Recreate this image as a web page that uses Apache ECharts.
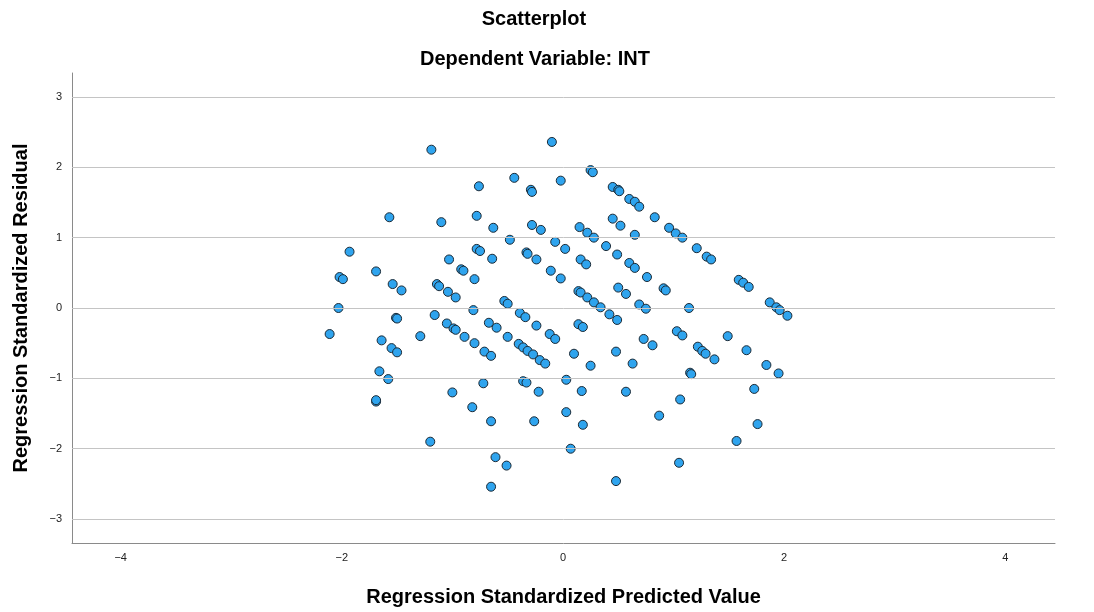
<!DOCTYPE html>
<html>
<head>
<meta charset="utf-8">
<script src="https://cdn.jsdelivr.net/npm/echarts@6/dist/echarts.min.js"></script>
<style>html,body{margin:0;padding:0;background:#fff;}#c{width:1094px;height:612px;}</style>
</head>
<body>
<div id="c"></div>
<script>
// Regression standardized predicted values (x) and residuals (y)
const predicted = [
-1.19,-1.57,-1.10,-1.93,-1.03,-0.76,-0.78,-0.78,-0.75,-0.10,-0.44,-0.29,-0.28,-0.02,0.25,0.27,0.45,0.50,0.51,0.60,
0.65,0.69,-0.63,-0.28,-0.20,0.15,0.22,0.28,0.45,0.52,0.65,-0.48,-0.07,0.02,0.39,0.49,-0.33,-0.32,-0.64,-0.24,
0.16,0.21,0.83,0.96,1.02,1.08,1.21,1.30,1.34,-0.92,-0.90,-0.80,-2.02,-1.99,-1.69,-1.54,-1.46,-1.14,-1.12,-1.04,
-0.97,-2.03,-0.81,-1.51,-1.50,-1.16,-1.05,-0.99,-0.97,-0.89,-0.80,-2.11,-1.29,-1.64,-1.55,-1.50,-1.66,-1.58,0.60,0.65,
-0.11,-0.02,0.14,0.16,0.22,0.28,0.34,0.50,0.57,-0.53,-0.50,-0.39,-0.34,0.42,0.49,-0.67,-0.60,-0.24,0.14,0.18,
-0.50,-0.12,-0.07,-0.40,-0.36,-0.32,-0.27,-0.21,-0.16,-0.71,-0.65,0.10,0.48,0.25,0.63,-0.72,-0.36,-0.33,0.03,0.76,
1.59,1.63,1.68,0.91,0.93,0.69,0.75,1.14,1.87,1.93,1.96,2.03,1.03,1.08,1.49,0.73,0.81,1.22,1.26,1.29,
1.37,1.66,1.84,1.95,1.15,1.16,-1.69,-1.69,-1.00,-0.82,-1.20,-0.22,0.17,0.57,-0.65,-0.26,0.03,0.18,0.07,-0.61,
-0.51,-0.65,0.48,1.73,1.06,0.87,1.76,1.57,1.05
];
const residual = [
2.25,1.29,1.22,0.80,0.69,1.73,1.31,0.84,0.81,2.36,1.85,1.68,1.65,1.81,1.96,1.93,1.72,1.68,1.66,1.55,
1.51,1.44,1.14,1.18,1.11,1.15,1.07,1.00,1.27,1.17,1.04,0.97,0.94,0.84,0.88,0.76,0.79,0.77,0.70,0.69,
0.69,0.62,1.29,1.14,1.06,1.00,0.85,0.73,0.69,0.55,0.53,0.41,0.44,0.41,0.52,0.34,0.25,0.34,0.31,0.23,
0.15,0.00,-0.03,-0.14,-0.15,-0.10,-0.22,-0.29,-0.31,-0.41,-0.50,-0.37,-0.40,-0.46,-0.57,-0.63,-0.90,-1.01,0.64,0.57,
0.53,0.42,0.24,0.22,0.15,0.08,0.01,0.29,0.20,0.10,0.06,-0.07,-0.13,-0.09,-0.17,-0.21,-0.28,-0.25,-0.23,-0.27,
-0.41,-0.37,-0.44,-0.51,-0.56,-0.61,-0.66,-0.74,-0.79,-0.62,-0.68,-0.65,-0.62,-0.82,-0.79,-1.07,-1.04,-1.06,-1.02,0.44,
0.40,0.36,0.30,0.28,0.25,0.05,-0.01,0.00,0.08,0.01,-0.03,-0.11,-0.33,-0.39,-0.40,-0.44,-0.53,-0.55,-0.61,-0.65,
-0.73,-0.60,-0.81,-0.93,-0.92,-0.94,-1.33,-1.31,-1.20,-1.41,-1.90,-1.19,-1.18,-1.19,-1.61,-1.61,-1.48,-1.66,-2.00,-2.12,
-2.24,-2.54,-2.46,-1.15,-1.30,-1.53,-1.65,-1.89,-2.20
];
const xTicks = [-4, -2, 0, 2, 4];
const yTicks = [-3, -2, -1, 0, 1, 2, 3];
const titleText = 'Scatterplot';
const subtitleText = 'Dependent Variable: INT';
const xName = 'Regression Standardized Predicted Value';
const yName = 'Regression Standardized Residual';

const points = predicted.map((x, i) => [x, residual[i]]);
const fmt = v => String(v).replace('-', '\u2212');
const FONT = '"Liberation Sans", Arial, sans-serif';

const chart = echarts.init(document.getElementById('c'), null, {renderer: 'canvas'});
chart.setOption({
  animation: false,
  backgroundColor: '#fff',
  title: [
    {text: titleText, left: 529, top: 4, textAlign: 'center',
     textStyle: {fontFamily: FONT, fontSize: 20, fontWeight: 'bold', color: '#000'}},
    {text: subtitleText, left: 530, top: 44, textAlign: 'center',
     textStyle: {fontFamily: FONT, fontSize: 20, fontWeight: 'bold', color: '#000'}}
  ],
  grid: {left: 72, right: 39, top: 73, bottom: 69, containLabel: false},
  xAxis: {
    type: 'value', min: -4.44, max: 4.45,
    name: xName, nameLocation: 'middle', nameGap: 44,
    nameTextStyle: {fontFamily: FONT, fontSize: 20, fontWeight: 'bold', color: '#000'},
    axisLine: {show: true, onZero: false, lineStyle: {color: '#8a8a8a', width: 1}},
    axisTick: {show: false, customValues: xTicks},
    axisLabel: {customValues: xTicks, formatter: fmt, fontFamily: FONT, fontSize: 11, color: '#222', margin: 9},
    splitLine: {show: false}
  },
  yAxis: {
    type: 'value', min: -3.34, max: 3.34,
    name: yName, nameLocation: 'middle', nameGap: 41,
    nameTextStyle: {fontFamily: FONT, fontSize: 20, fontWeight: 'bold', color: '#000'},
    axisLine: {show: true, onZero: false, lineStyle: {color: '#8a8a8a', width: 1}},
    axisTick: {show: false, customValues: yTicks},
    axisLabel: {customValues: yTicks, formatter: fmt, fontFamily: FONT, fontSize: 11, color: '#222', margin: 10},
    splitLine: {show: false}
  },
  series: [
    {
      type: 'scatter', data: [], z: 1, silent: true,
      markLine: {
        silent: true, symbol: 'none', animation: false,
        label: {show: false},
        lineStyle: {color: '#c4c4c4', type: 'solid', width: 1},
        data: yTicks.map(v => ({yAxis: v}))
      }
    },
    {
      type: 'scatter', data: points, z: 3,
      symbol: 'circle', symbolSize: 9,
      itemStyle: {color: '#2fa4ee', borderColor: '#1b2a36', borderWidth: 1, opacity: 1}
    }
  ]
});
</script>
</body>
</html>
